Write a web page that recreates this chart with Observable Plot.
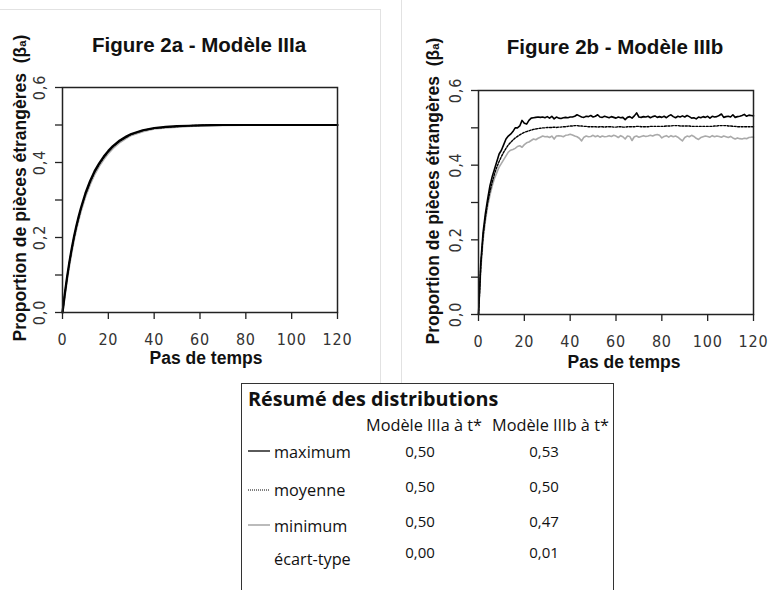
<!DOCTYPE html>
<html><head><meta charset="utf-8">
<script src="https://cdn.jsdelivr.net/npm/d3@7"></script>
<script src="https://cdn.jsdelivr.net/npm/@observablehq/plot@0.6"></script>
<style>
body{margin:0;background:#fff;width:776px;height:590px;position:relative;overflow:hidden;font-family:"Liberation Sans",Arial,sans-serif}
.abs{position:absolute;white-space:nowrap}
.ttl{font-weight:bold;font-size:20.5px;color:#111;transform:translate(-50%,-50%)}
.xl{font-weight:bold;font-size:17.5px;color:#111;transform:translate(-50%,-50%)}
.yl{font-weight:bold;font-size:17.5px;color:#111;transform:translate(-50%,-50%) rotate(-90deg)}
.yl span{font-size:11.5px;font-weight:bold}
.tb{font-family:"Open Sans",sans-serif;color:#111}
.vline{position:absolute;background:#e2e2e2;width:1px}
.hline{position:absolute;background:#e2e2e2;height:1px}
</style>
</head><body>
<script>
// ---------- data ----------
const xTicks = [0, 20, 40, 60, 80, 100, 120];
const yTicks = [0, 0.1, 0.2, 0.3, 0.4, 0.5, 0.6];

// Figure 2a – Modèle IIIa (time steps, max / mean / min)
const tL    = [0,1,2,3,4,5,6,7,8,10,12,14,16,18,20,22,25,28,30,35,40,45,50,55,60,65,70,80,90,100,110,120];
const maxL  = [0,0.05,0.095,0.135,0.17,0.202,0.23,0.255,0.278,0.318,0.35,0.377,0.398,0.416,0.431,0.444,0.459,0.47,0.476,0.486,0.492,0.495,0.497,0.498,0.499,0.4995,0.5,0.5,0.5,0.5,0.5,0.5];
const meanL = [0,0.048,0.092,0.132,0.167,0.199,0.227,0.252,0.275,0.315,0.347,0.374,0.395,0.413,0.429,0.442,0.457,0.468,0.475,0.485,0.491,0.494,0.496,0.498,0.499,0.4995,0.5,0.5,0.5,0.5,0.5,0.5];
const minL  = [0,0.045,0.088,0.127,0.162,0.194,0.222,0.247,0.27,0.31,0.342,0.369,0.391,0.409,0.425,0.438,0.454,0.466,0.473,0.483,0.49,0.493,0.495,0.497,0.498,0.499,0.4995,0.5,0.5,0.5,0.5,0.5];

// Figure 2b – Modèle IIIb (one value per time step 0..120)
const maxR = [0,0.14,0.22,0.27,0.31,0.345,0.37,0.39,0.41,0.43,0.44,0.455,0.47,0.478,0.483,0.49,0.50,0.50,0.505,0.52,
0.512,0.51,0.52,0.526,0.527,0.528,0.529,0.528,0.529,0.527,0.53,0.526,0.531,0.524,0.529,0.526,0.525,0.527,0.528,0.527,
0.529,0.529,0.531,0.535,0.532,0.529,0.528,0.531,0.53,0.533,0.529,0.531,0.535,0.529,0.528,0.531,0.529,0.527,0.53,0.528,
0.526,0.529,0.527,0.528,0.522,0.528,0.53,0.526,0.532,0.54,0.529,0.528,0.53,0.529,0.531,0.527,0.53,0.532,0.528,0.53,
0.528,0.531,0.527,0.532,0.535,0.53,0.527,0.531,0.529,0.532,0.529,0.533,0.53,0.526,0.527,0.524,0.529,0.527,0.53,0.528,
0.531,0.526,0.531,0.529,0.53,0.533,0.537,0.528,0.53,0.531,0.529,0.535,0.528,0.53,0.531,0.533,0.536,0.531,0.534,0.533,0.532];
const meanR = [0,0.13,0.21,0.26,0.30,0.33,0.355,0.377,0.395,0.41,0.423,0.435,0.445,0.454,0.461,0.467,0.473,0.477,0.481,0.485,
0.488,0.49,0.492,0.494,0.496,0.497,0.498,0.499,0.5,0.5,0.501,
0.501,0.501,0.502,0.501,0.502,0.502,0.503,0.503,0.504,
0.505,0.505,0.506,0.506,0.505,0.505,0.504,0.504,0.503,0.503,
0.503,0.503,0.502,0.503,0.503,0.502,0.503,0.503,0.503,0.502,
0.502,0.503,0.503,0.502,0.502,0.503,0.503,0.503,0.503,0.504,
0.504,0.503,0.503,0.503,0.503,0.504,0.504,0.504,0.504,0.504,
0.504,0.504,0.505,0.505,0.505,0.506,0.506,0.506,0.505,0.505,
0.505,0.505,0.505,0.504,0.504,0.504,0.504,0.504,0.504,0.504,
0.504,0.504,0.504,0.505,0.505,0.506,0.506,0.506,0.506,0.505,
0.505,0.504,0.504,0.503,0.503,0.503,0.503,0.503,0.503,0.503,0.503];
const minR = [0,0.12,0.2,0.25,0.29,0.32,0.345,0.365,0.38,0.395,0.405,0.415,0.425,0.435,0.44,0.442,0.445,0.45,0.452,0.448,
0.455,0.46,0.462,0.466,0.47,0.468,0.472,0.475,0.478,0.476,0.477,0.474,0.478,0.47,0.478,0.479,0.478,0.476,0.48,0.481,
0.483,0.481,0.478,0.476,0.472,0.465,0.475,0.478,0.476,0.477,0.48,0.476,0.479,0.475,0.478,0.476,0.477,0.479,0.477,0.48,
0.478,0.474,0.479,0.476,0.47,0.478,0.477,0.466,0.476,0.478,0.475,0.477,0.479,0.477,0.478,0.48,0.478,0.481,0.482,0.48,
0.473,0.477,0.479,0.475,0.479,0.476,0.478,0.475,0.47,0.465,0.474,0.478,0.476,0.48,0.477,0.472,0.469,0.474,0.476,0.478,
0.477,0.475,0.479,0.476,0.478,0.477,0.475,0.478,0.476,0.474,0.477,0.473,0.47,0.473,0.471,0.47,0.472,0.471,0.474,0.475,0.475];

// summary table
const tableTitle = "Résumé des distributions";
const colHeads = ["Modèle IIIa à t*", "Modèle IIIb à t*"];
const rowLabels = ["maximum", "moyenne", "minimum", "écart-type"];
const valsA = ["0,50", "0,50", "0,50", "0,00"];
const valsB = ["0,53", "0,50", "0,47", "0,01"];

// ---------- styles ----------
const cMax = "#000", cMean = "#000", cMin = "#aaaaaa";
const tickFont = '"Liberation Sans Narrow","DejaVu Sans Condensed","Liberation Sans",sans-serif';
const fmtY = d => (Math.round(d * 10) % 2 === 0) ? d3.format(".1f")(d).replace(".", ",") : "";

function panel(tx, series, m, widths) {
  return Plot.plot({
    width: m.w, height: 380,
    marginLeft: m.l, marginRight: m.r, marginTop: m.t, marginBottom: m.b,
    x: {domain: [0, 120], axis: null},
    y: {domain: [0, 0.6], axis: null},
    style: {background: "transparent", fontFamily: tickFont, fontSize: "16px", color: "#333", overflow: "visible", letterSpacing: "0.8px"},
    marks: [
      Plot.line(series[2], {x: (d, i) => tx ? tx[i] : i, y: d => d, stroke: cMin, strokeWidth: widths[2]}),
      Plot.line(series[1], {x: (d, i) => tx ? tx[i] : i, y: d => d, stroke: cMean, strokeWidth: widths[1], strokeDasharray: "2,1.5"}),
      Plot.line(series[0], {x: (d, i) => tx ? tx[i] : i, y: d => d, stroke: cMax, strokeWidth: widths[0]}),
      Plot.frame({stroke: "#222", strokeWidth: 1.5}),
      Plot.axisX({ticks: xTicks, tickSize: 7, tickPadding: 14, label: null, stroke: "#222", strokeWidth: 1.3, tickFormat: d => d, fill: "#333"}),
      Plot.axisY({ticks: yTicks, tickSize: 7, tickPadding: 11, tickRotate: -90, label: null, stroke: "#222", strokeWidth: 1.3, tickFormat: fmtY, fill: "#333"})
    ]
  });
}

function add(html, cls, x, y, extra) {
  const d = document.createElement("div");
  d.className = "abs " + (cls || "");
  d.style.left = x + "px"; d.style.top = y + "px";
  if (extra) Object.assign(d.style, extra);
  d.innerHTML = html;
  document.body.appendChild(d);
  return d;
}

// faint page separators
add("", "hline", 0, 9, {width: "380px"});
add("", "vline", 380, 9, {height: "374px"});
add("", "vline", 401, 0, {height: "383px"});

// left panel
const pL = panel(tL, [maxL, meanL, minL], {w: 390, l: 62, r: 53, t: 87, b: 68}, [2.2, 1.5, 2.2]);
const wL = add("", "", 0, 0); wL.appendChild(pL);
// right panel
const pR = panel(null, [maxR, meanR, minR], {w: 386, l: 88, r: 23, t: 90, b: 66}, [1.6, 1.4, 1.6]);
const wR = add("", "", 390, 0); wR.appendChild(pR);

add("Figure 2a - Modèle IIIa", "ttl", 199, 45);
add("Figure 2b - Modèle IIIb", "ttl", 615, 47);
add("Pas de temps", "xl", 206, 358);
add("Pas de temps", "xl", 624, 362);
add("Proportion de pièces étrangères&nbsp;&nbsp;(β<span>a</span>)", "yl", 20, 188);
add("Proportion de pièces étrangères&nbsp;&nbsp;(β<span>a</span>)", "yl", 433, 191);

// table
add("", "", 241, 383, {width: "371px", height: "230px", borderTop: "1.5px solid #333", borderLeft: "1.5px solid #333", borderRight: "1.5px solid #333", background: "#fff"});
add(tableTitle, "tb", 248, 398, {fontWeight: "bold", fontSize: "19.8px", transform: "translateY(-50%)"});
add(colHeads[0], "tb", 366, 425, {fontSize: "16.3px", transform: "translateY(-50%)"});
add(colHeads[1], "tb", 492, 425, {fontSize: "16.3px", transform: "translateY(-50%)"});
const rowY = [452, 490, 526, 559];
const valY = [451, 486, 521, 552];
rowLabels.forEach((r, i) => {
  add(r, "tb", 274, rowY[i], {fontSize: "16.3px", transform: "translateY(-50%)"});
  add(valsA[i], "tb", 420, valY[i], {fontSize: "15px", transform: "translate(-50%,-50%)"});
  add(valsB[i], "tb", 544, valY[i], {fontSize: "15px", transform: "translate(-50%,-50%)"});
});
// legend keys
const keys = [{y: 451, c: "#000", w: 1.3, dash: null}, {y: 490, c: "#000", w: 1, dash: "1,1"}, {y: 525, c: "#aaa", w: 1.6, dash: null}];
keys.forEach(k => {
  add(`<svg width="24" height="6"><line x1="0" x2="22" y1="3" y2="3" stroke="${k.c}" stroke-width="${k.w}" ${k.dash ? `stroke-dasharray="${k.dash}"` : ""}/></svg>`, "", 248, k.y - 3, {lineHeight: "0"});
});
</script>
</body></html>
